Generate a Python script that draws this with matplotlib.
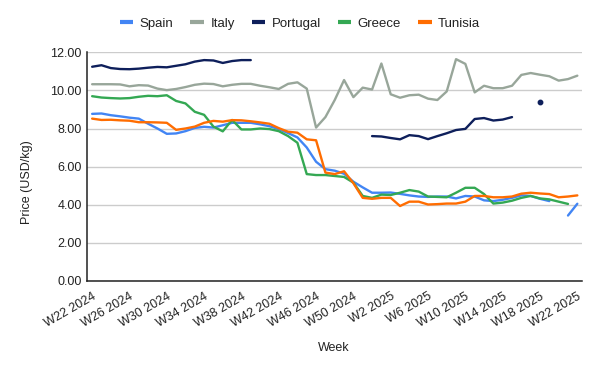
import matplotlib

matplotlib.use("Agg")
import matplotlib.pyplot as plt
import matplotlib.transforms as mtransforms
import numpy as np
from matplotlib.lines import Line2D

nan = np.nan

weeks = [
    "W22 2024", "W23 2024", "W24 2024", "W25 2024", "W26 2024", "W27 2024",
    "W28 2024", "W29 2024", "W30 2024", "W31 2024", "W32 2024", "W33 2024",
    "W34 2024", "W35 2024", "W36 2024", "W37 2024", "W38 2024", "W39 2024",
    "W40 2024", "W41 2024", "W42 2024", "W43 2024", "W44 2024", "W45 2024",
    "W46 2024", "W47 2024", "W48 2024", "W49 2024", "W50 2024", "W51 2024",
    "W52 2024", "W1 2025", "W2 2025", "W3 2025", "W4 2025", "W5 2025",
    "W6 2025", "W7 2025", "W8 2025", "W9 2025", "W10 2025", "W11 2025",
    "W12 2025", "W13 2025", "W14 2025", "W15 2025", "W16 2025", "W17 2025",
    "W18 2025", "W19 2025", "W20 2025", "W21 2025", "W22 2025",
]

spain = [
    8.77, 8.79, 8.70, 8.64, 8.57, 8.52, 8.25, 8.00, 7.72, 7.74,
    7.86, 8.03, 8.09, 8.05, 8.17, 8.30, 8.30, 8.30, 8.22, 8.12,
    7.97, 7.76, 7.53, 7.00, 6.25, 5.86, 5.78, 5.62, 5.20, 4.90,
    4.62, 4.62, 4.63, 4.56, 4.48, 4.42, 4.40, 4.42, 4.42, 4.32,
    4.45, 4.42, 4.22, 4.18, 4.25, 4.35, 4.48, 4.45, 4.30, 4.18,
    nan, 3.42, 4.04,
]

italy = [
    10.33, 10.33, 10.33, 10.32, 10.22, 10.28, 10.26, 10.10, 10.02, 10.08,
    10.18, 10.30, 10.36, 10.34, 10.22, 10.30, 10.35, 10.35, 10.25, 10.17,
    10.08, 10.35, 10.43, 10.10, 8.05, 8.60, 9.50, 10.55, 9.65, 10.15,
    10.05, 11.42, 9.80, 9.62, 9.75, 9.78, 9.57, 9.50, 9.95, 11.65,
    11.40, 9.90, 10.25, 10.12, 10.12, 10.25, 10.82, 10.92, 10.83, 10.75,
    10.52, 10.60, 10.78,
]

portugal = [
    11.25, 11.33, 11.18, 11.13, 11.12, 11.15, 11.20, 11.24, 11.22, 11.30,
    11.38, 11.52, 11.60, 11.58, 11.45, 11.55, 11.60, 11.60, nan, nan,
    nan, nan, nan, nan, nan, nan, nan, nan, nan, nan,
    7.60, 7.58, 7.50, 7.43, 7.65, 7.60, 7.44, 7.60, 7.75, 7.92,
    7.98, 8.50, 8.55, 8.42, 8.47, 8.60, nan, nan, 9.39, nan,
    nan, nan, nan,
]

greece = [
    9.70, 9.63, 9.60, 9.58, 9.60, 9.67, 9.72, 9.70, 9.75, 9.45,
    9.32, 8.88, 8.72, 8.10, 7.85, 8.45, 7.95, 7.95, 8.00, 7.97,
    7.86, 7.60, 7.25, 5.60, 5.55, 5.55, 5.50, 5.45, 5.15, 4.45,
    4.35, 4.52, 4.50, 4.62, 4.76, 4.68, 4.42, 4.40, 4.38, 4.62,
    4.88, 4.88, 4.55, 4.05, 4.10, 4.20, 4.35, 4.45, 4.32, 4.27,
    4.15, 4.03, nan,
]

tunisia = [
    8.52, 8.45, 8.46, 8.43, 8.41, 8.33, 8.33, 8.32, 8.30, 7.93,
    8.00, 8.10, 8.30, 8.40, 8.36, 8.44, 8.43, 8.38, 8.32, 8.25,
    8.02, 7.83, 7.78, 7.43, 7.38, 5.68, 5.60, 5.75, 5.12, 4.35,
    4.30, 4.35, 4.35, 3.92, 4.15, 4.15, 4.00, 4.02, 4.05, 4.05,
    4.15, 4.45, 4.45, 4.38, 4.38, 4.42, 4.57, 4.62, 4.58, 4.55,
    4.38, 4.42, 4.48,
]

series = [
    ("Spain", spain, "#4285f4"),
    ("Italy", italy, "#98a69a"),
    ("Portugal", portugal, "#0e1f5b"),
    ("Greece", greece, "#34a853"),
    ("Tunisia", tunisia, "#ff6d01"),
]

y_ticks = [0, 2, 4, 6, 8, 10, 12]

plt.rcParams["font.family"] = ["Liberation Sans", "DejaVu Sans"]

fig = plt.figure(figsize=(6.0, 3.71), dpi=100)
ax = fig.add_axes([0.1458, 0.2439, 0.8242, 0.6146])

x = np.arange(len(weeks))
for name, values, color in series:
    vals = np.array(values, dtype=float)
    ax.plot(x, vals, color=color, lw=1.7, solid_joinstyle="round",
            solid_capstyle="round", zorder=3)
    # single points with no neighbours get a dot, like the sheet does
    ok = ~np.isnan(vals)
    prev_ok = np.r_[False, ok[:-1]]
    next_ok = np.r_[ok[1:], False]
    lonely = ok & ~prev_ok & ~next_ok
    if lonely.any():
        ax.plot(x[lonely], vals[lonely], "o", color=color, ms=3.2, zorder=3)

ax.set_xlim(-0.5, len(weeks) - 0.5)
ax.set_ylim(0, 12)
ax.set_yticks(y_ticks)
ax.set_yticklabels([f"{v:.2f}" for v in y_ticks])
ax.grid(axis="y", color="#cccccc", lw=1)
ax.set_axisbelow(True)

tick_pos = x[::4]
ax.set_xticks(tick_pos)
ax.set_xticklabels([weeks[i] for i in tick_pos], rotation=30, ha="right",
                   va="top", rotation_mode="anchor")
shift = mtransforms.ScaledTranslation(5 / 100, 0, fig.dpi_scale_trans)
for lbl in ax.get_xticklabels():
    lbl.set_transform(lbl.get_transform() + shift)

ax.tick_params(axis="both", length=0, labelsize=9, colors="#222222", pad=7)
ax.tick_params(axis="y", pad=4)

for side in ("top", "right"):
    ax.spines[side].set_visible(False)
for side in ("left", "bottom"):
    ax.spines[side].set_color("#222222")
    ax.spines[side].set_linewidth(1.1)

ax.set_ylabel("Price (USD/kg)", fontsize=9, color="#222222")
ax.yaxis.set_label_coords(-0.110, 0.43)
ax.set_xlabel("Week", fontsize=9, color="#222222")
ax.xaxis.set_label_coords(0.497, -0.268)

handles = [Line2D([0], [0], color=c, lw=3, solid_capstyle="butt") for _, _, c in series]
fig.legend(handles, [n for n, _, _ in series], loc="center",
           bbox_to_anchor=(0.5, 0.936), ncol=5, frameon=False, fontsize=9.5,
           handlelength=1.0, handletextpad=0.5, columnspacing=1.3,
           labelcolor="#222222")

fig.savefig("out.png", dpi=100)
